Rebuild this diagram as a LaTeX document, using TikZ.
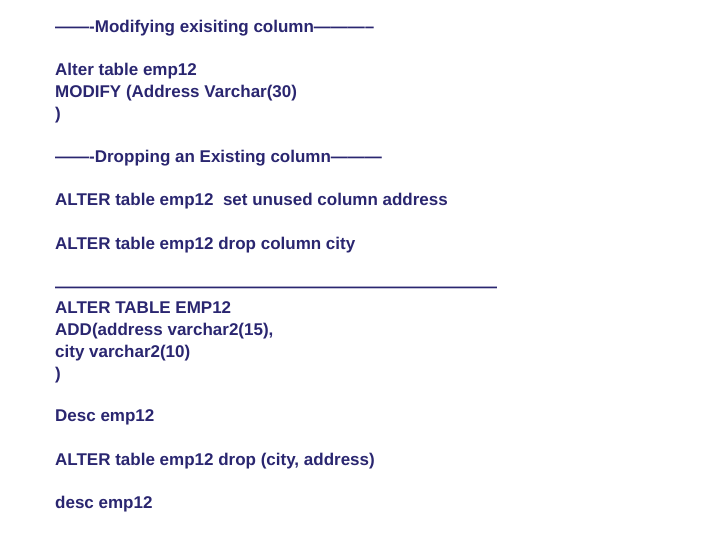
\documentclass[tikz,border=0pt]{standalone}
\usepackage{fontspec}
\setmainfont{Liberation Sans}
\usetikzlibrary{positioning}
\definecolor{sql_navy}{RGB}{42, 38, 112}
\tikzset{
  sqlline/.style = {anchor=base west, inner sep=0pt, text=sql_navy, font=\fontsize{17}{20}\selectfont\bfseries},
}
\begin{document}
\begin{tikzpicture}[x=1pt, y=-1pt]
    \useasboundingbox (0,0) rectangle (720,540);

    \node[sqlline] (head1) at (55,33) {-------Modifying exisiting column-----------};
    \node[sqlline] (alter1) at (55,76) {Alter table emp12};
    \node[sqlline] (modify) at (55,98) {MODIFY (Address Varchar(30)};
    \node[sqlline] (close1) at (55,120) {)};
    \node[sqlline] (head2) at (55,163) {-------Dropping an Existing column---------};
    \node[sqlline] (unused) at (55,206) {ALTER table emp12\ \ set unused column address};
    \node[sqlline] (dropcity) at (55,249) {ALTER table emp12 drop column city};
    \node[sqlline] (rule) at (55,292) {------------------------------------------------------------------------------};
    \node[sqlline] (alter2) at (55,313) {ALTER TABLE EMP12};
    \node[sqlline] (add) at (55,335) {ADD(address varchar2(15),};
    \node[sqlline] (city) at (55,357) {city varchar2(10)};
    \node[sqlline] (close2) at (55,379) {)};
    \node[sqlline] (desc1) at (55,421) {Desc emp12};
    \node[sqlline] (dropboth) at (55,465) {ALTER table emp12 drop (city, address)};
    \node[sqlline] (desc2) at (55,508) {desc emp12};

\end{tikzpicture}
\end{document}
